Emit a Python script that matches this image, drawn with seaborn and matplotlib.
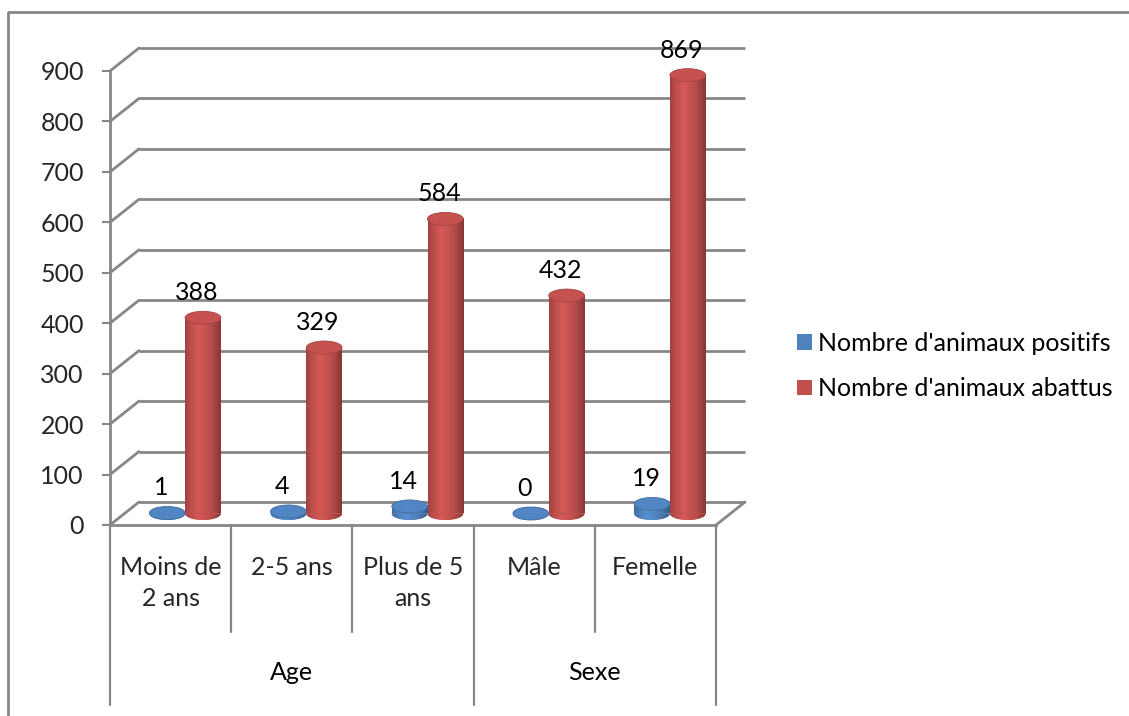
import numpy as np
import pandas as pd
import matplotlib
matplotlib.use("Agg")
import matplotlib.pyplot as plt
import matplotlib.transforms as mtransforms
from matplotlib.colors import to_rgb
from matplotlib.patches import Ellipse, ConnectionPatch, Patch
from matplotlib.lines import Line2D
import seaborn as sns

# ---- data -------------------------------------------------------------
categories = ["Moins de\n2 ans", "2-5 ans", "Plus de 5\nans", "Mâle", "Femelle"]
groups = ["Age", "Sexe"]
group_sizes = [3, 2]
series_names = ["Nombre d'animaux positifs", "Nombre d'animaux abattus"]
positifs = [1, 4, 14, 0, 19]
abattus = [388, 329, 584, 432, 869]
y_ticks = [0, 100, 200, 300, 400, 500, 600, 700, 800, 900]

# ---- style ------------------------------------------------------------
W, H, DPI = 1129, 716, 100
BLUE, RED = "#4F81BD", "#C0504D"
GRID = "#878787"
FS = 18

sns.set_style("white")
plt.rcParams["font.family"] = ["Lato", "DejaVu Sans"]
plt.rcParams["text.color"] = "black"

fig = plt.figure(figsize=(W / DPI, H / DPI), dpi=DPI)
# front plane of the 3-D box, in pixels: x 110..716, y 71 (top) .. 525 (floor)
ax = fig.add_axes([110 / W, (H - 525) / H, 606 / W, 454 / H])

df = pd.DataFrame({
    "categorie": categories * 2,
    "valeur": positifs + abattus,
    "serie": [series_names[0]] * len(categories) + [series_names[1]] * len(categories),
})

sns.barplot(data=df, x="categorie", y="valeur", hue="serie",
            palette=[BLUE, RED], saturation=1, width=0.59, gap=0,
            ax=ax, legend=False)
bars = list(ax.patches)

ax.set_xlim(-0.5, len(categories) - 0.5)
ax.set_ylim(y_ticks[0], y_ticks[-1])

# depth of the 3-D box (pixels, right / up) and transforms for middle and back planes
DX, DY = 29, 23
tr_mid = ax.transData + mtransforms.ScaledTranslation(DX / 2 / DPI, DY / 2 / DPI, fig.dpi_scale_trans)
tr_back = ax.transData + mtransforms.ScaledTranslation(DX / DPI, DY / DPI, fig.dpi_scale_trans)

# ---- back wall gridlines + floor -------------------------------------
x_lo, x_hi = ax.get_xlim()
for v in y_ticks:
    ax.plot([x_lo, x_hi], [v, v], transform=tr_back, color=GRID, lw=2.0,
            clip_on=False, zorder=0.5, solid_capstyle="butt")
    ax.add_artist(ConnectionPatch((x_lo, v), (x_lo, v), coordsA=ax.transData,
                                  coordsB=tr_back, color=GRID, lw=2.0,
                                  clip_on=False, zorder=0.5))
ax.add_artist(ConnectionPatch((x_hi, 0), (x_hi, 0), coordsA=ax.transData,
                              coordsB=tr_back, color=GRID, lw=2.0,
                              clip_on=False, zorder=0.5))


# ---- cylinders ---------------------------------------------------------
def side_strip(base, n=96):
    t = np.linspace(0, 1, n)
    f = np.interp(t, [0, 0.12, 0.38, 0.72, 1], [0.82, 0.95, 1.12, 0.96, 0.70])
    rgb = np.array(to_rgb(base))
    return np.clip(rgb[None, :] * f[:, None], 0, 1)[None, :, :]


ELL_PX = 13
ell_h = ELL_PX * (y_ticks[-1] - y_ticks[0]) / 454.0

for p in bars:
    base = p.get_facecolor()[:3]
    x0, w, h = p.get_x(), p.get_width(), p.get_height()
    cx = x0 + w / 2
    p.set_transform(tr_mid)
    p.set_clip_on(False)
    p.set_linewidth(0)
    p.set_zorder(2)
    strip = side_strip(base)
    # lower half of the base ellipse
    bottom = Ellipse((cx, 0), w, ell_h, transform=tr_mid, facecolor=base,
                     edgecolor="none", zorder=1.9, clip_on=False)
    ax.add_patch(bottom)
    im = ax.imshow(strip, extent=(x0, x0 + w, -ell_h / 2, ell_h / 2),
                   transform=tr_mid, aspect="auto", interpolation="bilinear",
                   zorder=1.95)
    im.set_clip_path(bottom)
    im.set_clip_box(None)
    if h > 0:
        ax.imshow(strip, extent=(x0, x0 + w, 0, h), transform=tr_mid,
                  aspect="auto", interpolation="bilinear", zorder=2.1,
                  clip_on=False)
    top_col = np.clip(np.array(base) * 1.03, 0, 1)
    ax.add_patch(Ellipse((cx, h), w, ell_h, transform=tr_mid, facecolor=top_col,
                         edgecolor=np.clip(np.array(base) * 0.85, 0, 1), lw=0.6,
                         zorder=2.3, clip_on=False))
    ax.annotate(f"{h:.0f}", xy=(cx, h), xycoords=tr_mid, xytext=(-6, 25),
                textcoords="offset pixels", ha="center", va="center",
                fontsize=FS, zorder=5, annotation_clip=False)

ax.set_xlim(x_lo, x_hi)
ax.set_ylim(y_ticks[0], y_ticks[-1])

# ---- axes --------------------------------------------------------------
for side in ["top", "right"]:
    ax.spines[side].set_visible(False)
for side in ["left", "bottom"]:
    ax.spines[side].set_color(GRID)
    ax.spines[side].set_linewidth(2.0)
ax.set_yticks(y_ticks)
ax.tick_params(axis="y", left=True, length=5.8, width=1.5, color=GRID,
               pad=13, labelsize=FS)
ax.set_xticks(range(len(categories)))
ax.set_xticklabels(categories, linespacing=1.45)
ax.tick_params(axis="x", bottom=False, length=0, pad=22, labelsize=FS)
ax.set_xlabel("")
ax.set_ylabel("")
ax.grid(False)

# two-level category axis: separators and group labels
fy = lambda py: 1 - py / H
blend = mtransforms.blended_transform_factory(ax.transData, fig.transFigure)
bounds = np.arange(len(categories) + 1) - 0.5
outer_idx = np.concatenate([[0], np.cumsum(group_sizes)])
for i, b in enumerate(bounds):
    y_end = 705 if i in outer_idx else 632
    ax.plot([b, b], [fy(525), fy(y_end)], transform=blend, color=GRID,
            lw=1.6, clip_on=False, zorder=1)
for g, a, bnd in zip(groups, outer_idx[:-1], outer_idx[1:]):
    ax.text((bounds[a] + bounds[bnd]) / 2, fy(672), g, transform=blend,
            ha="center", va="center", fontsize=FS)

# ---- legend ------------------------------------------------------------
handles = [Patch(facecolor=BLUE, edgecolor="none"), Patch(facecolor=RED, edgecolor="none")]
fig.legend(handles, series_names, loc="center left",
           bbox_to_anchor=(797 / W, fy(366)), frameon=False, fontsize=FS,
           handlelength=0.58, handleheight=0.58, handletextpad=0.25,
           labelspacing=0.9, borderaxespad=0, borderpad=0)

# chart area frame
fig.add_artist(Line2D([8 / W, 8 / W, 1.01], [-0.01, fy(12), fy(12)],
                      transform=fig.transFigure, color=GRID, lw=2.0,
                      clip_on=False))

fig.savefig("out.png", dpi=DPI)
